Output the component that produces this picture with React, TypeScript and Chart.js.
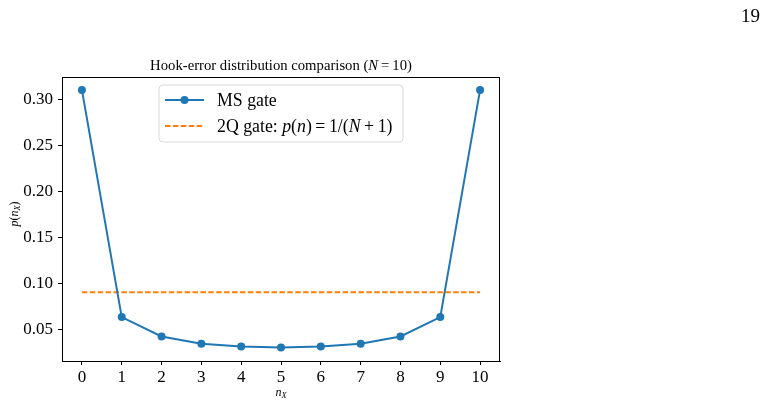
import React, { useEffect, useRef } from "react";
import { Chart, registerables } from "chart.js";

Chart.register(...registerables);

const nValues = [0, 1, 2, 3, 4, 5, 6, 7, 8, 9, 10];
const msGate = [0.311, 0.064, 0.043, 0.035, 0.032, 0.031, 0.032, 0.035, 0.043, 0.064, 0.311];
const twoQX = [0, 10];
const twoQValue = 1 / 11;
const yTicks = [0.05, 0.1, 0.15, 0.2, 0.25, 0.3];
const xTicks = [0, 1, 2, 3, 4, 5, 6, 7, 8, 9, 10];

const SERIF = "'Liberation Serif', 'DejaVu Serif', serif";

type Seg = { t: string; it?: boolean; sub?: boolean };

function segWidth(ctx: CanvasRenderingContext2D, segs: Seg[], size: number) {
  let w = 0;
  for (const s of segs) {
    const sz = s.sub ? size * 0.7 : size;
    ctx.font = `${s.it ? "italic " : ""}${sz}px ${SERIF}`;
    w += ctx.measureText(s.t).width;
  }
  return w;
}

function drawSegs(ctx: CanvasRenderingContext2D, segs: Seg[], x: number, y: number, size: number) {
  let cx = x;
  ctx.textBaseline = "alphabetic";
  ctx.textAlign = "left";
  for (const s of segs) {
    const sz = s.sub ? size * 0.7 : size;
    ctx.font = `${s.it ? "italic " : ""}${sz}px ${SERIF}`;
    ctx.fillText(s.t, cx, s.sub ? y + size * 0.2 : y);
    cx += ctx.measureText(s.t).width;
  }
}

const decorPlugin = {
  id: "decor",
  afterDraw(chart: any) {
    const ctx: CanvasRenderingContext2D = chart.ctx;
    const a = chart.chartArea;
    ctx.save();
    // frame
    ctx.strokeStyle = "#000";
    ctx.lineWidth = 1;
    ctx.strokeRect(Math.round(a.left) + 0.5, Math.round(a.top) + 0.5, Math.round(a.right - a.left) - 1, Math.round(a.bottom - a.top));
    ctx.fillStyle = "#000";
    // title
    const title: Seg[] = [
      { t: "Hook-error distribution comparison (" },
      { t: "N", it: true },
      { t: "\u2009=\u200910)" },
    ];
    const tsz = 14.7;
    const tw = segWidth(ctx, title, tsz);
    drawSegs(ctx, title, (a.left + a.right) / 2 - tw / 2, a.top - 7, tsz);
    // x label
    const xl: Seg[] = [{ t: "n", it: true }, { t: "X", it: true, sub: true }];
    const xw = segWidth(ctx, xl, 12);
    drawSegs(ctx, xl, (a.left + a.right) / 2 - xw / 2, 396, 12);
    // y label
    const yl: Seg[] = [{ t: "p", it: true }, { t: "(" }, { t: "n", it: true }, { t: "X", it: true, sub: true }, { t: ")" }];
    const yw = segWidth(ctx, yl, 12);
    ctx.save();
    ctx.translate(18, (a.top + a.bottom) / 2 - 5);
    ctx.rotate(-Math.PI / 2);
    drawSegs(ctx, yl, -yw / 2, 0, 12);
    ctx.restore();
    // legend
    const lx = 159, ly = 85, lw = 244, lh = 57, r = 4;
    ctx.beginPath();
    ctx.moveTo(lx + r, ly);
    ctx.lineTo(lx + lw - r, ly);
    ctx.quadraticCurveTo(lx + lw, ly, lx + lw, ly + r);
    ctx.lineTo(lx + lw, ly + lh - r);
    ctx.quadraticCurveTo(lx + lw, ly + lh, lx + lw - r, ly + lh);
    ctx.lineTo(lx + r, ly + lh);
    ctx.quadraticCurveTo(lx, ly + lh, lx, ly + lh - r);
    ctx.lineTo(lx, ly + r);
    ctx.quadraticCurveTo(lx, ly, lx + r, ly);
    ctx.closePath();
    ctx.fillStyle = "rgba(255,255,255,0.8)";
    ctx.fill();
    ctx.strokeStyle = "#d9d9d9";
    ctx.stroke();
    const ds = chart.data.datasets;
    // entry 1
    let ey = 100;
    ctx.strokeStyle = ds[0].borderColor;
    ctx.lineWidth = 2;
    ctx.setLineDash([]);
    ctx.beginPath();
    ctx.moveTo(165, ey);
    ctx.lineTo(204, ey);
    ctx.stroke();
    ctx.fillStyle = ds[0].borderColor;
    ctx.beginPath();
    ctx.arc(184.5, ey, 4, 0, Math.PI * 2);
    ctx.fill();
    ctx.fillStyle = "#000";
    drawSegs(ctx, [{ t: "MS gate" }], 217, ey + 6, 17.8);
    // entry 2
    ey = 126;
    ctx.strokeStyle = ds[1].borderColor;
    ctx.setLineDash([5.5, 2.4]);
    ctx.beginPath();
    ctx.moveTo(165, ey);
    ctx.lineTo(204, ey);
    ctx.stroke();
    ctx.setLineDash([]);
    ctx.fillStyle = "#000";
    drawSegs(
      ctx,
      [
        { t: "2Q gate: " },
        { t: "p", it: true },
        { t: "(" },
        { t: "n", it: true },
        { t: ")\u2009=\u20091/(" },
        { t: "N", it: true },
        { t: "\u2009+\u20091)" },
      ],
      217,
      ey + 6,
      17.8
    );
    ctx.restore();
  },
};

export default function App() {
  const ref = useRef<HTMLCanvasElement>(null);
  useEffect(() => {
    document.body.style.margin = "0";
    const chart = new Chart(ref.current!, {
      type: "line",
      data: {
        datasets: [
          {
            label: "MS gate",
            data: nValues.map((n, i) => ({ x: n, y: msGate[i] })),
            borderColor: "#1f77b4",
            backgroundColor: "#1f77b4",
            borderWidth: 2,
            pointRadius: 4,
            pointBorderWidth: 0,
            tension: 0,
          },
          {
            label: "2Q gate",
            data: twoQX.map((x) => ({ x, y: twoQValue })),
            borderColor: "#ff7f0e",
            backgroundColor: "#ff7f0e",
            borderWidth: 2,
            borderDash: [5.5, 2.4],
            pointRadius: 0,
          },
        ],
      },
      options: {
        animation: false,
        responsive: false,
        layout: { padding: { left: 0, top: 77, right: 267, bottom: 0 } },
        plugins: { legend: { display: false }, title: { display: false }, tooltip: { enabled: false } },
        scales: {
          x: {
            type: "linear",
            min: -0.5,
            max: 10.5,
            afterBuildTicks: (s: any) => {
              s.ticks = xTicks.map((v) => ({ value: v }));
            },
            afterFit: (s: any) => {
              s.height = 45;
            },
            ticks: {
              color: "#000",
              font: { family: SERIF, size: 17 },
              padding: 2,
              maxRotation: 0,
              autoSkip: false,
              callback: (v: any) => String(v),
            },
            grid: { drawOnChartArea: false, drawTicks: true, tickLength: 4, color: "#000" },
            border: { display: true, color: "#000", width: 1 },
          },
          y: {
            type: "linear",
            min: 0.0163,
            max: 0.325,
            afterBuildTicks: (s: any) => {
              s.ticks = yTicks.map((v) => ({ value: v }));
            },
            afterFit: (s: any) => {
              s.width = 62;
            },
            ticks: {
              color: "#000",
              font: { family: SERIF, size: 17 },
              padding: 5,
              autoSkip: false,
              callback: (v: any) => Number(v).toFixed(2),
            },
            grid: { drawOnChartArea: false, drawTicks: true, tickLength: 4, color: "#000" },
            border: { display: true, color: "#000", width: 1 },
          },
        },
      },
      plugins: [decorPlugin],
    });
    return () => chart.destroy();
  }, []);
  return (
    <div style={{ position: "fixed", left: 0, top: 0, width: 767, height: 406, background: "#fff" }}>
      <canvas ref={ref} width={767} height={406} style={{ position: "absolute", left: 0, top: 0 }} />
      <div
        style={{
          position: "absolute",
          left: 741,
          top: 6,
          fontFamily: SERIF,
          fontSize: 19,
          color: "#000",
          lineHeight: "20px",
        }}
      >
        19
      </div>
    </div>
  );
}
